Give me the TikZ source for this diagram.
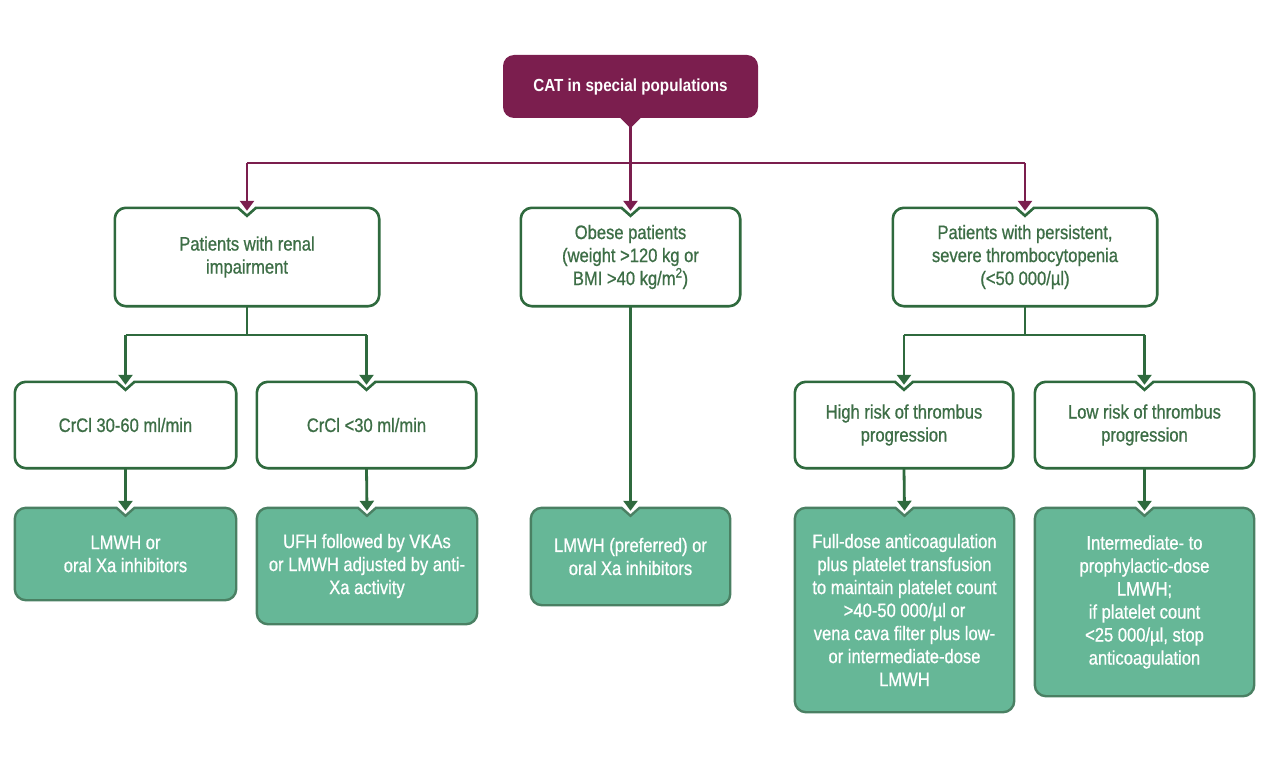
\documentclass[tikz,border=0pt]{standalone}
\usepackage{fontspec}
\setmainfont{Liberation Sans}[FakeStretch=0.85, FakeBold=0.8]
\newfontfamily\topfont{Liberation Sans Bold}[FakeStretch=0.87]
\usetikzlibrary{arrows.meta,backgrounds,calc}
\definecolor{mag}{HTML}{7B1E4E}
\definecolor{gline}{HTML}{2F6A3E}
\definecolor{gtext}{HTML}{3D6E46}
\definecolor{gfill}{HTML}{66B797}
\definecolor{gborder}{HTML}{4A8063}
\newcommand\notchbox[2]{%
 \path[#2] let \p1=(#1.north west), \p2=(#1.south east), \p3=(#1.north) in
 (\x1,\y1-11pt) .. controls (\x1,\y1-5pt) and (\x1+5pt,\y1) .. (\x1+11pt,\y1) -- (\x3-9pt,\y1) -- (\x3,\y1-8pt) -- (\x3+9pt,\y1) -- (\x2-11pt,\y1) .. controls (\x2-5pt,\y1) and (\x2,\y1-5pt) .. (\x2,\y1-11pt) -- (\x2,\y2+11pt) .. controls (\x2,\y2+5pt) and (\x2-5pt,\y2) .. (\x2-11pt,\y2) -- (\x1+11pt,\y2) .. controls (\x1+5pt,\y2) and (\x1,\y2+5pt) .. (\x1,\y2+11pt) -- cycle;}
\tikzset{
 boxtext/.style={align=center, inner sep=0pt, font=\fontsize{19.5}{23}\selectfont},
 wbox/.style={boxtext, text=gtext},
 fbox/.style={boxtext, text=white},
 woutline/.style={draw=gline, fill=white, line width=2.6pt},
 foutline/.style={draw=gborder, fill=gfill, line width=2.4pt},
 mline/.style={draw=mag, line width=2.8pt},
 gl/.style={draw=gline, line width=2.8pt},
 tip/.style={-{Triangle[width=14pt,length=10pt]}},
}
\begin{document}
\begin{tikzpicture}[x=1pt,y=-1pt]
\useasboundingbox (0,0) rectangle (1280,757);
% top
\node[fill=mag, rounded corners=11pt, minimum width=255pt, minimum height=63pt, inner sep=0pt, text=white, font=\topfont\fontsize{17.5}{19}\selectfont] (top) at (630.5,86.5) {CAT in special populations};
\fill[mag] ($(top.south)+(-11,-1)$) -- ($(top.south)+(11,-1)$) -- ($(top.south)+(0,10)$) -- cycle;
% level 2
\node[wbox, minimum width=264pt, minimum height=98pt] (renal) at (247,257) {Patients with renal\\impairment};
\node[wbox, minimum width=219pt, minimum height=98pt] (obese) at (630.5,257) {Obese patients\\(weight >120 kg or\\BMI >40 kg/m\textsuperscript{2})};
\node[wbox, minimum width=264pt, minimum height=98pt] (thromb) at (1025,257) {Patients with persistent,\\severe thrombocytopenia\\(<50 000/µl)};
% level 3
\node[wbox, minimum width=221pt, minimum height=86pt] (crcl1) at (125.5,425) {CrCl 30-60 ml/min};
\node[wbox, minimum width=219pt, minimum height=86pt] (crcl2) at (366.5,425) {CrCl <30 ml/min};
\node[wbox, minimum width=218pt, minimum height=86pt] (high) at (904,425) {High risk of thrombus\\progression};
\node[wbox, minimum width=219pt, minimum height=86pt] (low) at (1144.5,425) {Low risk of thrombus\\progression};
% level 4
\node[fbox, minimum width=221pt, minimum height=92pt] (res1) at (125.5,554) {LMWH or\\oral Xa inhibitors};
\node[fbox, minimum width=220pt, minimum height=116pt] (res2) at (367,566) {UFH followed by VKAs\\or LMWH adjusted by anti-\\Xa activity};
\node[fbox, minimum width=199pt, minimum height=97pt] (res3) at (630.5,556.5) {LMWH (preferred) or\\oral Xa inhibitors};
\node[fbox, minimum width=219pt, minimum height=204pt] (res4) at (904.5,610) {Full-dose anticoagulation\\plus platelet transfusion\\to maintain platelet count\\>40-50 000/µl or\\vena cava filter plus low-\\or intermediate-dose\\LMWH};
\node[fbox, minimum width=219pt, minimum height=188pt] (res5) at (1144.5,602) {Intermediate- to\\prophylactic-dose\\LMWH;\\if platelet count\\<25 000/µl, stop\\anticoagulation};
\begin{scope}[on background layer]
\foreach \bx in {renal,obese,thromb,crcl1,crcl2,high,low} {\notchbox{\bx}{woutline}}
\foreach \bx in {res1,res2,res3,res4,res5} {\notchbox{\bx}{foutline}}
\end{scope}
% connectors
\coordinate (h1) at (0,163);
\coordinate (h2) at (0,335);
\draw[mline] (renal.north |- h1) -- (thromb.north |- h1);
\draw[mline, tip, fill=mag] ($(top.south)+(0,9)$) -- ([yshift=-3pt]obese.north);
\draw[mline, tip, fill=mag] (renal.north |- h1) -- ([yshift=-3pt]renal.north);
\draw[mline, tip, fill=mag] (thromb.north |- h1) -- ([yshift=-3pt]thromb.north);
\draw[gl] (renal.south) -- (renal.south |- h2);
\draw[gl] (crcl1.north |- h2) -- (crcl2.north |- h2);
\draw[gl, tip] (crcl1.north |- h2) -- ([yshift=-3pt]crcl1.north);
\draw[gl, tip] (crcl2.north |- h2) -- ([yshift=-3pt]crcl2.north);
\draw[gl] (thromb.south) -- (thromb.south |- h2);
\draw[gl] (high.north |- h2) -- (low.north |- h2);
\draw[gl, tip] (high.north |- h2) -- ([yshift=-3pt]high.north);
\draw[gl, tip] (low.north |- h2) -- ([yshift=-3pt]low.north);
\draw[gl, tip] (crcl1.south) -- ([yshift=-3pt]res1.north);
\draw[gl, tip] (crcl2.south) -- ([yshift=-3pt]res2.north);
\draw[gl, tip] (obese.south) -- ([yshift=-3pt]res3.north);
\draw[gl, tip] (high.south) -- ([yshift=-3pt]res4.north);
\draw[gl, tip] (low.south) -- ([yshift=-3pt]res5.north);
\end{tikzpicture}
\end{document}
